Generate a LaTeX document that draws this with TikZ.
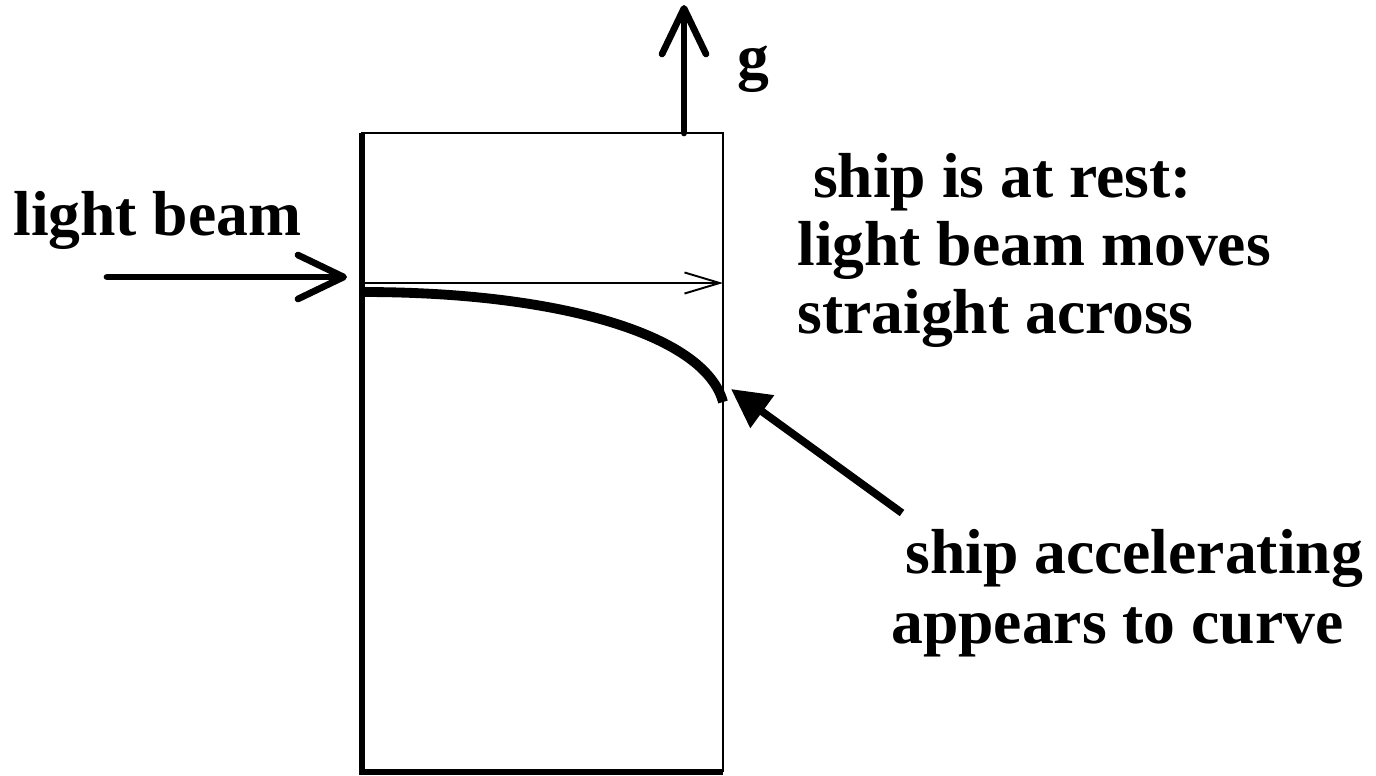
\documentclass[tikz,border=0pt]{standalone}
\usepackage{fontspec}
\setmainfont{Liberation Serif}
\usetikzlibrary{arrows.meta}

\begin{document}
\begin{tikzpicture}[x=0.02cm,y=-0.02cm,
  label/.style={font=\fontsize{36.2}{39}\selectfont\bfseries, inner sep=0pt, anchor=base west},
  bigarrow/.style={line width=3.8pt, line cap=round,
    -{Straight Barb[round, length=26pt, width=25pt]}}]

  \useasboundingbox (0,0) rectangle (1376,775);

  % ship corners
  \coordinate (NW) at (362,133);
  \coordinate (NE) at (723,133);
  \coordinate (SW) at (362,772);
  \coordinate (SE) at (723,772);
  \coordinate (GB) at (684,133);
  \coordinate (GT) at (684,5);
  \coordinate (BS) at (107,277);
  \coordinate (BE) at (347,277);
  \coordinate (RS) at (362,283);
  \coordinate (RE) at (723,283);
  \coordinate (CS) at (363,292);
  \coordinate (CE) at (723,402);
  \coordinate (PT) at (902,513);
  \coordinate (PH) at (731,389);

  \node[label] (beam) at (13,235) {light beam};
  \node[label] (g) at (737,78) {g};
  \node[label] (rest1) at (797,197) {\hspace*{9pt}ship is at rest:};
  \node[label] (rest2) at (797,265) {light beam moves};
  \node[label] (rest3) at (797,333) {straight across};
  \node[label] (acc1) at (905,573) {ship accelerating};
  \node[label] (acc2) at (891,643) {appears to curve};

  \draw[line width=1.2pt] (SW) -- (NW) -- (NE) -- (SE);
  \draw[line width=3.4pt] (NW) -- (SW) -- (SE);

  \draw[bigarrow] (GB) -- (GT);
  \draw[bigarrow] (BS) -- (BE);

  \draw[line width=1.1pt, -{Straight Barb[length=20pt, width=12pt]}] (RS) -- (RE);
  \draw[line width=5.6pt] (CS) .. controls (560,292) and (705,335) .. (CE);

  \draw[line width=4.4pt, -{Triangle[length=22pt, width=22pt]}] (PT) -- (PH);

\end{tikzpicture}
\end{document}
